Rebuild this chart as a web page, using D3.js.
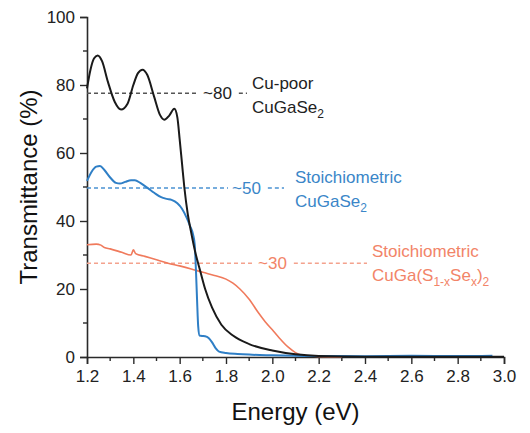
<!DOCTYPE html>
<html>
<head>
<meta charset="utf-8">
<script src="https://cdn.jsdelivr.net/npm/d3@7"></script>
<style>
  body { margin: 0; background: #fff; }
  svg { font-family: "Liberation Sans", Arial, sans-serif; }
</style>
</head>
<body>
<svg id="chart" width="530" height="433"></svg>
<script>
// tick values
const energyTicks = [1.2, 1.4, 1.6, 1.8, 2.0, 2.2, 2.4, 2.6, 2.8, 3.0];
const energyMinor = [1.3, 1.5, 1.7, 1.9, 2.1, 2.3, 2.5, 2.7, 2.9];
const transTicks = [0, 20, 40, 60, 80, 100];
const transMinor = [10, 30, 50, 70, 90];

// Cu-poor CuGaSe2
const poorE = [1.20, 1.215, 1.23, 1.246, 1.265, 1.29, 1.32, 1.347, 1.375, 1.40, 1.42, 1.44, 1.46, 1.49, 1.515, 1.534, 1.555, 1.577, 1.59, 1.60, 1.61, 1.62, 1.635, 1.65, 1.665, 1.69, 1.71, 1.74, 1.78, 1.83, 1.90, 2.00, 2.10, 2.20, 2.40, 3.00];
const poorT = [79, 84.5, 87.8, 88.7, 87, 81, 75, 72.8, 74.5, 80, 83.5, 84.5, 83, 76.5, 71.2, 69.8, 71, 73, 70.5, 64, 57, 50, 42, 36.5, 31.5, 25, 20, 14.5, 9.5, 6.3, 3.8, 1.9, 0.8, 0.3, 0.1, 0.05];

// stoichiometric CuGaSe2
const stoichE = [1.20, 1.22, 1.24, 1.256, 1.275, 1.30, 1.325, 1.342, 1.365, 1.39, 1.407, 1.43, 1.46, 1.49, 1.52, 1.545, 1.565, 1.59, 1.61, 1.63, 1.645, 1.658, 1.665, 1.670, 1.675, 1.680, 1.686, 1.695, 1.71, 1.725, 1.74, 1.755, 1.77, 1.80, 1.85, 1.90, 2.00, 2.10, 2.20, 2.40, 2.60, 2.80, 2.95];
const stoichT = [51.8, 54.5, 56.0, 56.2, 55, 52.8, 51.2, 51, 51.5, 52, 52, 51.2, 49.8, 48.3, 47, 46.5, 46.2, 45.2, 43.6, 41, 38.5, 36, 33, 26, 17, 9, 6.3, 6.2, 6.1, 5.6, 4.3, 2.6, 1.6, 1.2, 0.9, 0.7, 0.5, 0.35, 0.3, 0.25, 0.35, 0.3, 0.4];

// stoichiometric CuGa(S1-xSex)2
const sulfE = [1.20, 1.24, 1.26, 1.275, 1.30, 1.35, 1.39, 1.40, 1.41, 1.45, 1.50, 1.55, 1.60, 1.65, 1.70, 1.75, 1.80, 1.83, 1.86, 1.90, 1.94, 1.97, 2.00, 2.03, 2.07, 2.10, 2.13, 2.20, 2.30];
const sulfT = [33, 33.2, 32.9, 32.2, 31.8, 30.8, 30, 31.5, 30.4, 29.6, 28.6, 27.6, 26.8, 25.9, 24.9, 24, 22.9, 21.7, 20, 17, 13, 10.3, 8, 5.6, 2.8, 1.3, 0.5, 0.15, 0.05];

// average transmittance levels (dashed guides)
const levelValues = [77.6, 49.7, 27.6];
const levelLabels = ["~80", "~50", "~30"];

const W = 530, H = 433;
const margin = {top: 17, right: 26, bottom: 76, left: 87};

const svg = d3.select("#chart");
const x = d3.scaleLinear().domain([1.2, 3.0]).range([margin.left, W - margin.right]);
const y = d3.scaleLinear().domain([0, 100]).range([H - margin.bottom, margin.top]);

const axisColor = "#2a2a2a";

// x axis
const gx = svg.append("g").attr("transform", `translate(0,${y(0)})`);
gx.call(d3.axisBottom(x).tickValues(energyTicks).tickFormat(d3.format(".1f")).tickSize(7).tickPadding(6));
gx.append("g").selectAll("line").data(energyMinor).join("line")
  .attr("x1", d => x(d)).attr("x2", d => x(d)).attr("y1", 0).attr("y2", 4);

// y axis
const gy = svg.append("g").attr("transform", `translate(${x(1.2)},0)`);
gy.call(d3.axisLeft(y).tickValues(transTicks).tickSize(7).tickPadding(5));
gy.append("g").selectAll("line").data(transMinor).join("line")
  .attr("y1", d => y(d)).attr("y2", d => y(d)).attr("x1", 0).attr("x2", -4);

[gx, gy].forEach(g => {
  g.select(".domain").attr("stroke", axisColor).attr("stroke-width", 1.6);
  g.selectAll("line").attr("stroke", axisColor).attr("stroke-width", 1.4);
  g.selectAll("text").attr("font-size", 17).attr("fill", "#222")
    .attr("font-family", "'Liberation Sans', Arial, sans-serif");
});

// axis titles
svg.append("text")
  .attr("x", (x(1.2) + x(3.0)) / 2).attr("y", 420)
  .attr("text-anchor", "middle").attr("font-size", 24).attr("fill", "#111")
  .text("Energy (eV)");
svg.append("text")
  .attr("transform", `translate(37,${(y(0) + y(100)) / 2}) rotate(-90)`)
  .attr("text-anchor", "middle").attr("font-size", 24).attr("fill", "#111")
  .text("Transmittance (%)");

// guides + labels
const notes = [
  {color: "#222", dash: "#555", tildeX: 203, dashEnd: 247, nameX: 252, nameY: 89,
   lines: [[["Cu-poor"]], [["CuGaSe"], ["2", "sub"]]]},
  {color: "#3a86c8", dash: "#4b92d2", tildeX: 232, dashEnd: 284, nameX: 295, nameY: 183,
   lines: [[["Stoichiometric"]], [["CuGaSe"], ["2", "sub"]]]},
  {color: "#f28468", dash: "#f4a28d", tildeX: 258, dashEnd: 367, nameX: 372, nameY: 257,
   lines: [[["Stoichiometric"]], [["CuGa(S"], ["1-x", "sub"], ["Se"], ["x", "sub"], [")"], ["2", "sub"]]]}
];

notes.forEach((n, i) => {
  const ly = y(levelValues[i]);
  const t = svg.append("text")
    .attr("x", n.tildeX).attr("y", ly + 6)
    .attr("font-size", 17).attr("fill", n.color)
    .text(levelLabels[i]);
  const bb = t.node().getBBox();
  const segs = [[x(1.2), n.tildeX - 4], [bb.x + bb.width + 7, n.dashEnd]];
  segs.forEach(s => {
    svg.append("line")
      .attr("x1", s[0]).attr("x2", s[1]).attr("y1", ly).attr("y2", ly)
      .attr("stroke", n.dash).attr("stroke-width", 1.5).attr("stroke-dasharray", "4,3");
  });

  n.lines.forEach((parts, li) => {
    const txt = svg.append("text")
      .attr("x", n.nameX).attr("y", n.nameY + li * 24)
      .attr("font-size", 17).attr("fill", n.color);
    let shifted = false;
    parts.forEach(p => {
      const sub = p[1] === "sub";
      let dy = 0;
      if (sub && !shifted) { dy = 5; shifted = true; }
      if (!sub && shifted) { dy = -5; shifted = false; }
      txt.append("tspan").attr("dy", dy).attr("font-size", sub ? 12 : 17).text(p[0]);
    });
  });
});

// curves
const line = d3.line().x(d => x(d[0])).y(d => y(d[1])).curve(d3.curveMonotoneX);
const series = [
  {e: sulfE, t: sulfT, color: "#f07a5c", w: 1.6},
  {e: stoichE, t: stoichT, color: "#2f7fc6", w: 2},
  {e: poorE, t: poorT, color: "#1a1a1a", w: 2}
];
series.forEach(s => {
  svg.append("path")
    .datum(d3.zip(s.e, s.t))
    .attr("fill", "none").attr("stroke", s.color).attr("stroke-width", s.w)
    .attr("stroke-linejoin", "round")
    .attr("d", line);
});
</script>
</body>
</html>
